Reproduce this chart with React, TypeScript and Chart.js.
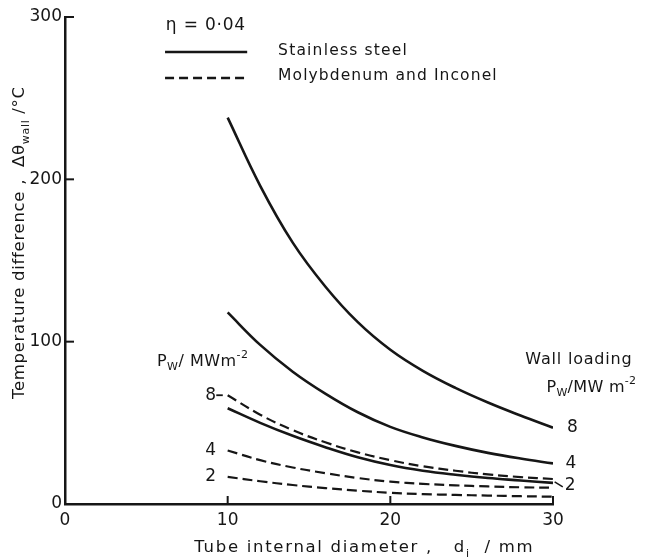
import React, { useEffect, useRef } from 'react';
import { Chart, registerables } from 'chart.js';

Chart.register(...registerables);

// Tube internal diameter d_i / mm
const diameters = [10, 12, 14, 16, 18, 20, 22, 24, 26, 28, 30];
// Stainless steel, wall loading 8, 4, 2 MW m^-2
const steel8 = [238, 196, 161, 134, 112, 95, 82, 71.5, 62.5, 54.5, 47];
const steel4 = [118, 98, 81.5, 68, 56.5, 47.5, 41, 35.8, 31.5, 28, 25];
const steel2 = [59, 50, 42, 35, 28.8, 24, 20.5, 18, 16, 14.5, 13];
// Molybdenum and Inconel, wall loading 8, 4, 2 MW m^-2
const moly8 = [67, 55, 45.5, 38, 31.8, 27, 23.2, 20.5, 18.2, 16.6, 15.4];
const moly4 = [33, 27, 22.5, 19, 16, 13.8, 12.4, 11.5, 10.8, 10.3, 10];
const moly2 = [16.7, 14, 11.7, 9.8, 8.2, 6.9, 6.1, 5.6, 5.2, 4.8, 4.5];

const xTicks = [0, 10, 20, 30];
const yTicks = [0, 100, 200, 300];
const loadLabels = ['8', '4', '2'];

const INK = '#161616';
const FONT = '"DejaVu Sans", sans-serif';

type Seg = { t: string; s?: 'sub' | 'sup' };

function segFont(size: number, s?: string) {
  return `${s ? Math.round(size * 0.68) : size}px ${FONT}`;
}

function drawRich(
  ctx: CanvasRenderingContext2D,
  segs: Seg[],
  x: number,
  y: number,
  size: number,
  align: 'left' | 'center' | 'right',
  spacing = '0.6px'
) {
  ctx.save();
  (ctx as any).letterSpacing = spacing;
  ctx.textBaseline = 'middle';
  ctx.textAlign = 'left';
  ctx.fillStyle = INK;
  let total = 0;
  const widths = segs.map((g) => {
    ctx.font = segFont(size, g.s);
    const w = ctx.measureText(g.t).width;
    total += w;
    return w;
  });
  let cx = align === 'left' ? x : align === 'center' ? x - total / 2 : x - total;
  segs.forEach((g, i) => {
    ctx.font = segFont(size, g.s);
    const dy = g.s === 'sub' ? size * 0.35 : g.s === 'sup' ? -size * 0.4 : 0;
    ctx.fillText(g.t, cx, y + dy);
    cx += widths[i];
  });
  ctx.restore();
}

const annotations = {
  id: 'annotations',
  afterDraw(chart: any) {
    const { ctx, chartArea, scales } = chart;
    const xs = scales.x;
    const ys = scales.y;
    const X = (v: number) => xs.getPixelForValue(v);
    const Y = (v: number) => ys.getPixelForValue(v);
    const last = diameters.length - 1;

    ctx.save();
    ctx.strokeStyle = INK;
    ctx.lineWidth = 2;
    // inward tick marks
    xTicks.slice(1).forEach((v) => {
      ctx.beginPath();
      ctx.moveTo(X(v), chartArea.bottom);
      ctx.lineTo(X(v), chartArea.bottom - 8);
      ctx.stroke();
    });
    yTicks.slice(1).forEach((v) => {
      ctx.beginPath();
      ctx.moveTo(chartArea.left, Y(v));
      ctx.lineTo(chartArea.left + 9, Y(v));
      ctx.stroke();
    });

    // legend
    drawRich(ctx, [{ t: 'η = 0·04' }], X(6.2), Y(294.5), 17, 'left', '0.8px');
    ctx.lineWidth = 2.5;
    ctx.beginPath();
    ctx.moveTo(X(6.15), Y(278.5));
    ctx.lineTo(X(11.2), Y(278.5));
    ctx.stroke();
    ctx.setLineDash([9, 5]);
    ctx.beginPath();
    ctx.moveTo(X(6.15), Y(262.5));
    ctx.lineTo(X(11.2), Y(262.5));
    ctx.stroke();
    ctx.setLineDash([]);
    drawRich(ctx, [{ t: 'Stainless steel' }], X(13.1), Y(279), 15.5, 'left', '1.2px');
    drawRich(ctx, [{ t: 'Molybdenum and Inconel' }], X(13.1), Y(263.5), 15.5, 'left', '1.1px');

    // left-hand curve labels (dashed family)
    drawRich(ctx, [{ t: 'P' }, { t: 'W', s: 'sub' }, { t: '/ MWm' }, { t: '-2', s: 'sup' }], X(5.65), Y(87.5), 16, 'left', '0.5px');
    const leftVals = [moly8[0], moly4[0], moly2[0]];
    leftVals.forEach((v, i) => {
      drawRich(ctx, [{ t: loadLabels[i] }], X(8.95), Y(v), 17, 'center', '0px');
    });
    ctx.lineWidth = 1.8;
    ctx.beginPath();
    ctx.moveTo(X(9.3), Y(moly8[0]));
    ctx.lineTo(X(9.7), Y(moly8[0]));
    ctx.stroke();

    // right-hand labels (solid family)
    drawRich(ctx, [{ t: 'Wall loading' }], X(28.3), Y(89), 16, 'left', '0.8px');
    drawRich(ctx, [{ t: 'P' }, { t: 'W', s: 'sub' }, { t: '/MW m' }, { t: '-2', s: 'sup' }], X(29.6), Y(71.5), 16, 'left', '0.3px');
    drawRich(ctx, [{ t: loadLabels[0] }], X(31.2), Y(steel8[last]), 17, 'center', '0px');
    drawRich(ctx, [{ t: loadLabels[1] }], X(31.1), Y(steel4[last]), 17, 'center', '0px');
    drawRich(ctx, [{ t: loadLabels[2] }], X(31.05), Y(11.2), 17, 'center', '0px');
    ctx.lineWidth = 1.5;
    ctx.beginPath();
    ctx.moveTo(X(30.1), Y(13.6));
    ctx.lineTo(X(30.6), Y(10.6));
    ctx.stroke();

    // axis titles
    drawRich(
      ctx,
      [{ t: 'Tube internal diameter ,   d' }, { t: 'i', s: 'sub' }, { t: '  / mm' }],
      X(18.4),
      chartArea.bottom + 44,
      16.5,
      'center',
      '1.7px'
    );
    ctx.save();
    ctx.translate(20, Y(161));
    ctx.rotate(-Math.PI / 2);
    drawRich(
      ctx,
      [{ t: 'Temperature difference ,  Δθ' }, { t: 'wall', s: 'sub' }, { t: ' /°C' }],
      0,
      0,
      16.5,
      'center',
      '0.7px'
    );
    ctx.restore();
    ctx.restore();
  },
};

function makeSet(label: string, values: number[], dashed: boolean) {
  return {
    label,
    data: diameters.map((d, i) => ({ x: d, y: values[i] })),
    borderColor: INK,
    borderWidth: dashed ? 2.2 : 2.6,
    borderDash: dashed ? [10, 5] : [],
    pointRadius: 0,
    fill: false,
    tension: 0.4,
  };
}

export default function App() {
  const ref = useRef<HTMLCanvasElement | null>(null);
  useEffect(() => {
    if (!ref.current) return;
    const chart = new Chart(ref.current, {
      type: 'line',
      data: {
        datasets: [
          makeSet('Stainless steel 8', steel8, false),
          makeSet('Stainless steel 4', steel4, false),
          makeSet('Stainless steel 2', steel2, false),
          makeSet('Molybdenum and Inconel 8', moly8, true),
          makeSet('Molybdenum and Inconel 4', moly4, true),
          makeSet('Molybdenum and Inconel 2', moly2, true),
        ],
      },
      options: {
        responsive: false,
        animation: false,
        layout: { padding: { left: 0, right: 93, top: 17, bottom: 0 } },
        plugins: { legend: { display: false }, tooltip: { enabled: false } },
        scales: {
          x: {
            type: 'linear',
            min: 0,
            max: 30,
            afterFit: (s: any) => {
              s.height = 56;
            },
            afterBuildTicks: (s: any) => {
              s.ticks = xTicks.map((v) => ({ value: v }));
            },
            grid: { display: false, drawTicks: false },
            border: { display: true, color: INK, width: 2.5 },
            ticks: { color: INK, font: { size: 17, family: FONT }, padding: 6, maxRotation: 0 },
          },
          y: {
            type: 'linear',
            min: 0,
            max: 300,
            afterFit: (s: any) => {
              s.width = 65;
            },
            afterBuildTicks: (s: any) => {
              s.ticks = yTicks.map((v) => ({ value: v }));
            },
            grid: { display: false, drawTicks: false },
            border: { display: true, color: INK, width: 2.5 },
            ticks: { color: INK, font: { size: 17, family: FONT }, padding: 3 },
          },
        },
      },
      plugins: [annotations],
    });
    return () => chart.destroy();
  }, []);
  return (
    <div style={{ position: 'absolute', left: 0, top: 0, width: 646, height: 560, background: '#fff' }}>
      <canvas ref={ref} width={646} height={560} />
    </div>
  );
}
